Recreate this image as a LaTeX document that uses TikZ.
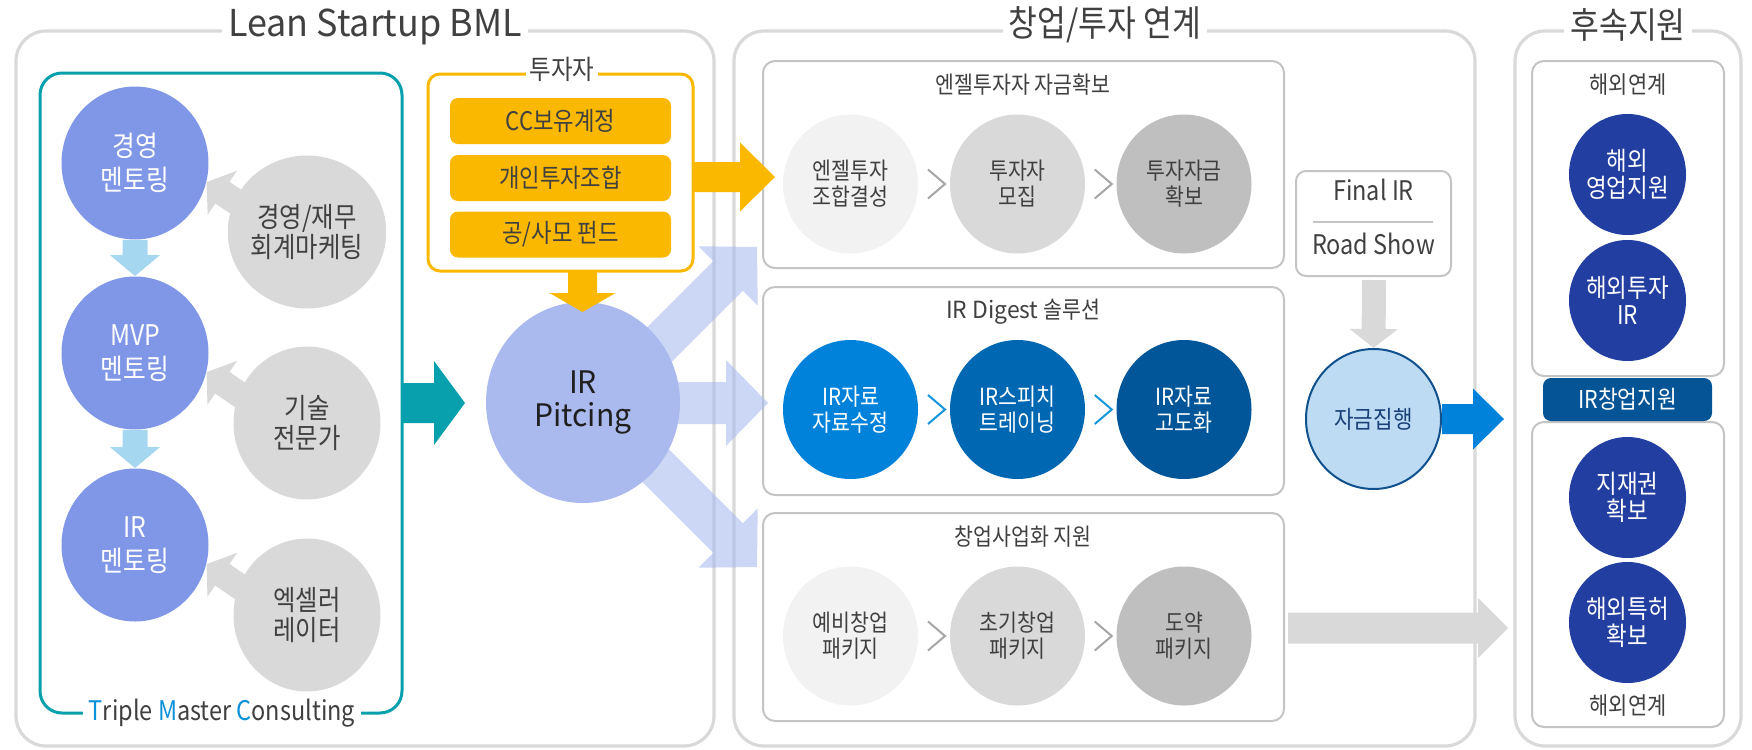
\documentclass[tikz,border=0pt]{standalone}
\usepackage{fontspec}
\setmainfont{Noto Sans CJK KR}[FakeStretch=0.87]
\newfontfamily\widef{Noto Sans CJK KR}[FakeStretch=0.97]
\usetikzlibrary{shapes.geometric,calc,fit}
\definecolor{pgray}{RGB}{217,217,217}
\definecolor{tgray}{RGB}{64,64,64}
\definecolor{boxgray}{RGB}{196,196,196}
\definecolor{tealc}{RGB}{8,160,172}
\definecolor{mblue}{RGB}{127,151,230}
\definecolor{lblue}{RGB}{165,216,240}
\definecolor{gold}{RGB}{250,185,0}
\definecolor{irblue}{RGB}{170,186,238}
\definecolor{cA}{RGB}{242,242,242}
\definecolor{cB}{RGB}{217,217,217}
\definecolor{cC}{RGB}{191,191,191}
\definecolor{bA}{RGB}{0,130,218}
\definecolor{bB}{RGB}{0,104,178}
\definecolor{bC}{RGB}{0,86,152}
\definecolor{navyc}{RGB}{33,62,160}
\definecolor{irbar}{RGB}{5,85,150}
\definecolor{fundfill}{RGB}{189,220,244}
\definecolor{fundline}{RGB}{16,80,140}
\definecolor{fundtext}{RGB}{25,65,120}
\definecolor{chev}{RGB}{166,166,166}
\definecolor{chevb}{RGB}{20,150,220}
\definecolor{tmcc}{RGB}{10,145,216}
\newcommand\fs[2]{\fontsize{#1}{#2}\selectfont}
% #1 style, #2 start, #3 tip, #4 shaft half width, #5 head length, #6 head half width
\newcommand\fatarrow[6]{%
  \coordinate (fac) at ($(#3)!#5!(#2)$);
  \fill[#1] ($(#2)!#4!90:(#3)$) -- ($(fac)!#4!90:(#3)$) -- ($(fac)!#6!90:(#3)$) -- (#3)
    -- ($(fac)!#6!-90:(#3)$) -- ($(fac)!#4!-90:(#3)$) -- ($(#2)!#4!-90:(#3)$) -- cycle;}
\begin{document}
\begin{tikzpicture}[x=0.5pt,y=-0.5pt,
  panel/.style={draw=pgray,line width=1.6pt,rounded corners=15pt,inner sep=0pt},
  ptitle/.style={fill=white,text=tgray,font=\fs{18}{20},inner xsep=3pt,inner ysep=1pt},
  ment/.style={ellipse,fill=mblue,text=white,minimum width=73.5pt,minimum height=76.5pt,inner sep=0pt,align=center,font=\fs{14.2}{17}},
  expert/.style={ellipse,fill=pgray,text=tgray,minimum width=73.5pt,minimum height=76.5pt,inner sep=0pt,align=center,font=\fs{14}{15}},
  stepc/.style={ellipse,minimum width=67.5pt,minimum height=69.5pt,inner sep=0pt,align=center,font=\fs{11.8}{13}},
  subbox/.style={draw=boxgray,line width=1pt,rounded corners=6pt,inner sep=0pt,fill=white},
  subtitle/.style={text=tgray,font=\fs{11.8}{13},inner sep=0pt},
  chevst/.style={draw=chev,line width=1pt},
  chevbl/.style={draw=chevb,line width=1pt},
  bar/.style={fill=gold,rounded corners=4pt,inner sep=0pt,minimum width=110.5pt,minimum height=23pt,text=tgray,font=\fs{12.8}{14}},
  navyn/.style={ellipse,fill=navyc,text=white,minimum width=58.5pt,minimum height=60.5pt,inner sep=0pt,align=center,font=\fs{12.9}{13.5}},
  plain/.style={text=tgray,inner sep=0pt}
]
\useasboundingbox (0,0) rectangle (1752,750);

% ---------- panels ----------
\node[panel,fit={(16,31)(714,746)}] (p1) {};
\node[panel,fit={(734,31)(1475,746)}] (p2) {};
\node[panel,fit={(1515,31)(1741,746)}] (p3) {};
\node[ptitle,font=\widef\fs{18.5}{20}] (t1) at (375,27) {Lean Startup BML};
\node[ptitle] (t2) at (1105,25) {창업/투자 연계};
\node[ptitle] (t3) at (1628,25) {후속지원};

% ---------- Triple Master Consulting ----------
\node[draw=tealc,line width=1.5pt,rounded corners=11pt,inner sep=0pt,fit={(40,73)(402,713)}] (tb) {};
\node[fill=white,text=tgray,font=\fs{13.5}{15},inner xsep=3pt,inner ysep=0pt] (tmc) at (222,713)
  {\textcolor{tmcc}{T}riple \textcolor{tmcc}{M}aster \textcolor{tmcc}{C}onsulting};

\node[ment] (b1) at (135,163) {경영\\멘토링};
\node[ment] (b2) at (135,353) {MVP\\멘토링};
\node[ment] (b3) at (135,545) {IR\\멘토링};

\coordinate (g1c) at (307,232);
\coordinate (g2c) at (307,423);
\coordinate (g3c) at (307,615);
\coordinate (g1s) at (307,249);
\coordinate (g2s) at (307,440);
\coordinate (g3s) at (307,632);
\fatarrow{fill=pgray}{g1s}{b1.-15}{6.5pt}{9.5pt}{13.25pt}
\fatarrow{fill=pgray}{g2s}{b2.-15}{6.5pt}{9.5pt}{13.25pt}
\fatarrow{fill=pgray}{g3s}{b3.-15}{6.5pt}{9.5pt}{13.25pt}
\node[expert] (g1) at (g1c) {경영/재무\\회계마케팅};
\node[expert] (g2) at (g2c) {기술\\전문가};
\node[expert] (g3) at (g3c) {엑셀러\\레이터};

\fatarrow{fill=lblue}{b1.south}{b2.north}{6.25pt}{10.5pt}{12.5pt}
\fatarrow{fill=lblue}{b2.south}{b3.north}{6.25pt}{10.5pt}{12.5pt}

% ---------- investor box ----------
\node[draw=gold,line width=1.5pt,rounded corners=6pt,inner sep=0pt,fit={(428,74)(693,271)}] (ob) {};
\node[fill=white,text=tgray,font=\fs{13.5}{14},inner xsep=2pt,inner ysep=0pt] (obt) at (562,69) {투자자};
\node[bar] (o1) at (560.5,121) {CC보유계정};
\node[bar] (o2) at (560.5,178) {개인투자조합};
\node[bar] (o3) at (560.5,234.5) {공/사모 펀드};

% ---------- sub boxes ----------
\node[subbox,fit={(763,61)(1284,268)}] (s1) {};
\node[subtitle] (s1t) at (1023,85) {엔젤투자자 자금확보};
\node[stepc,fill=cA,text=tgray] (c11) at (850.5,184) {엔젤투자\\조합결성};
\node[stepc,fill=cB,text=tgray] (c12) at (1017.5,184) {투자자\\모집};
\node[stepc,fill=cC,text=tgray] (c13) at (1184,184) {투자자금\\확보};
\draw[chevst] ($(c11.east)!0.5!(c12.west)+(-6,-14.5)$) -- ++(17,14.5) -- ++(-17,14.5);
\draw[chevst] ($(c12.east)!0.5!(c13.west)+(-6,-14.5)$) -- ++(17,14.5) -- ++(-17,14.5);

\node[subbox,fit={(763,287)(1284,495)}] (s2) {};
\node[subtitle] (s2t) at (1023,312) {{\widef IR Digest} 솔루션};
\node[stepc,fill=bA,text=white] (c21) at (850.5,409.5) {IR자료\\자료수정};
\node[stepc,fill=bB,text=white] (c22) at (1017.5,409.5) {IR스피치\\트레이닝};
\node[stepc,fill=bC,text=white] (c23) at (1184,409.5) {IR자료\\고도화};
\draw[chevbl] ($(c21.east)!0.5!(c22.west)+(-6,-14.5)$) -- ++(17,14.5) -- ++(-17,14.5);
\draw[chevbl] ($(c22.east)!0.5!(c23.west)+(-6,-14.5)$) -- ++(17,14.5) -- ++(-17,14.5);

\node[subbox,fit={(763,513)(1284,721)}] (s3) {};
\node[subtitle] (s3t) at (1023,537) {창업사업화 지원};
\node[stepc,fill=cA,text=tgray] (c31) at (850.5,636) {예비창업\\패키지};
\node[stepc,fill=cB,text=tgray] (c32) at (1017.5,636) {초기창업\\패키지};
\node[stepc,fill=cC,text=tgray] (c33) at (1184,636) {도약\\패키지};
\draw[chevst] ($(c31.east)!0.5!(c32.west)+(-6,-14.5)$) -- ++(17,14.5) -- ++(-17,14.5);
\draw[chevst] ($(c32.east)!0.5!(c33.west)+(-6,-14.5)$) -- ++(17,14.5) -- ++(-17,14.5);

% ---------- IR pitching ----------
\coordinate (irc) at (583,402.5);
\coordinate (ts1) at (607,397);
\coordinate (ts2) at (583,403);
\coordinate (ts3) at (607,417);
\coordinate (ta1) at (757,247);
\coordinate (ta2) at (768,403);
\coordinate (ta3) at (757,567);
\fatarrow{fill=irblue,fill opacity=0.6}{ts1}{ta1}{10.5pt}{20.5pt}{21pt}
\fatarrow{fill=irblue,fill opacity=0.6}{ts2}{ta2}{10.5pt}{21pt}{21.5pt}
\fatarrow{fill=irblue,fill opacity=0.6}{ts3}{ta3}{10.5pt}{20.5pt}{21pt}
\node[ellipse,fill=irblue,minimum width=97pt,minimum height=100.5pt,inner sep=0pt,align=center,font=\widef\fs{15.5}{16.5},text=black!88] (ir) at (irc) {IR\\Pitcing};

\coordinate (oas) at (693,177);
\coordinate (oat) at (775,177);
\fatarrow{fill=gold}{oas}{oat}{7.5pt}{17.5pt}{17.25pt}
\coordinate (ods) at (582.5,271);
\coordinate (odt) at (582.5,312);
\fatarrow{fill=gold}{ods}{odt}{7.25pt}{9.5pt}{16.5pt}
\coordinate (tas) at (402,403);
\coordinate (tat) at (465,403);
\fatarrow{fill=tealc}{tas}{tat}{10pt}{15.5pt}{21pt}

% ---------- Final IR / fund ----------
\node[draw=boxgray,line width=1pt,rounded corners=5pt,inner sep=0pt,fit={(1296,171)(1451,276)}] (fr) {};
\node[plain,font=\fs{13.5}{15}] (fr1) at (1373.5,190) {Final IR};
\draw[boxgray,line width=0.8pt] (1313,222) -- (1433,222);
\node[plain,font=\fs{13.5}{15}] (fr2) at (1373.5,244) {Road Show};
\node[ellipse,fill=fundfill,draw=fundline,line width=1pt,minimum width=67.5pt,minimum height=70pt,inner sep=0pt,text=fundtext,font=\fs{12.2}{13}] (fund) at (1373.5,419) {자금집행};
\coordinate (gds) at (1374,280);
\fatarrow{fill=pgray}{gds}{fund.north}{6pt}{9.5pt}{12pt}
\coordinate (bat) at (1504,419);
\fatarrow{fill=bA}{fund.east}{bat}{7.5pt}{15.5pt}{15.25pt}
\coordinate (gbs) at (1288,628);
\coordinate (gbt) at (1508,628);
\fatarrow{fill=pgray}{gbs}{gbt}{7.75pt}{15pt}{15pt}

% ---------- follow-up ----------
\node[subbox,fit={(1532,61)(1724,376)}] (u1) {};
\node[subtitle,font=\fs{12}{13}] (u1t) at (1628,85) {해외연계};
\node[navyn] (n1) at (1627.5,174.5) {해외\\영업지원};
\node[navyn] (n2) at (1627.5,300.5) {해외투자\\IR};
\node[subbox,fit={(1532,422)(1724,727)}] (u2) {};
\node[fill=irbar,rounded corners=4pt,minimum width=84.5pt,minimum height=21.5pt,inner sep=0pt,text=white,font=\fs{12.3}{13}] (irb) at (1627.5,399.5) {IR창업지원};
\node[navyn] (n3) at (1627.5,497.5) {지재권\\확보};
\node[navyn] (n4) at (1627.5,622.5) {해외특허\\확보};
\node[subtitle,font=\fs{12}{13}] (u2t) at (1628,706) {해외연계};
\end{tikzpicture}
\end{document}
